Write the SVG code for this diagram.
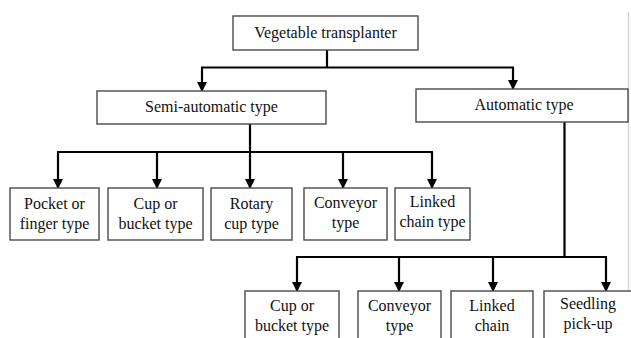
<svg xmlns="http://www.w3.org/2000/svg" width="631" height="338" viewBox="0 0 631 338">
<style>
.box{fill:#fff;stroke:#4a4a4a;stroke-width:1.4}
.t{font-family:"Liberation Serif","Times New Roman",serif;font-size:16px;fill:#111;text-anchor:middle}
.c{fill:none;stroke:#000;stroke-width:2.2}
</style>
<defs>
<marker id="a" markerUnits="userSpaceOnUse" markerWidth="10" markerHeight="10" refX="9" refY="5" orient="auto" viewBox="0 0 10 10">
<path d="M0 0 L10 5 L0 10 Z" fill="#000"/>
</marker>
</defs>
<rect width="631" height="338" fill="#fff"/>
<line x1="628.5" y1="12" x2="628.5" y2="291" stroke="#d6d6d6" stroke-width="1.5"/>
<g id="connectors">
<path class="c" d="M327 50 V67.5 M201 67.5 H514"/>
<path class="c" d="M202 67.5 V91" marker-end="url(#a)"/>
<path class="c" d="M513 67.5 V89" marker-end="url(#a)"/>
<path class="c" d="M250 124 V152 M57 152 H433"/>
<path class="c" d="M58 152 V188" marker-end="url(#a)"/>
<path class="c" d="M157 152 V188" marker-end="url(#a)"/>
<path class="c" d="M250 152 V188" marker-end="url(#a)"/>
<path class="c" d="M343 152 V188" marker-end="url(#a)"/>
<path class="c" d="M432 152 V188" marker-end="url(#a)"/>
<path class="c" d="M564.5 122 V257 M296 257 H607"/>
<path class="c" d="M297 257 V291" marker-end="url(#a)"/>
<path class="c" d="M399 257 V291" marker-end="url(#a)"/>
<path class="c" d="M493 257 V291" marker-end="url(#a)"/>
<path class="c" d="M606 257 V291" marker-end="url(#a)"/>
</g>
<g id="n-root"><rect class="box" x="233" y="16" width="185" height="34"/><text class="t" x="325.5" y="38">Vegetable transplanter</text></g>
<g id="n-semi"><rect class="box" x="97" y="91" width="229" height="33"/><text class="t" x="211.5" y="112">Semi-automatic type</text></g>
<g id="n-auto"><rect class="box" x="416" y="89" width="212" height="33"/><text class="t" x="524" y="110">Automatic type</text></g>
<g id="n-pocket"><rect class="box" x="10" y="188" width="89" height="52"/><text class="t" x="54.5" y="209">Pocket or</text><text class="t" x="54.5" y="229">finger type</text></g>
<g id="n-cup1"><rect class="box" x="108" y="188" width="95" height="52"/><text class="t" x="155.5" y="209">Cup or</text><text class="t" x="155.5" y="229">bucket type</text></g>
<g id="n-rotary"><rect class="box" x="211" y="188" width="81" height="52"/><text class="t" x="251.5" y="209">Rotary</text><text class="t" x="251.5" y="229">cup type</text></g>
<g id="n-conv1"><rect class="box" x="304" y="188" width="83" height="52"/><text class="t" x="345.5" y="208">Conveyor</text><text class="t" x="345.5" y="228">type</text></g>
<g id="n-linked1"><rect class="box" x="395" y="188" width="75" height="52"/><text class="t" x="432.5" y="207">Linked</text><text class="t" x="432.5" y="227">chain type</text></g>
<g id="n-cup2"><rect class="box" x="245" y="291" width="94" height="60"/><text class="t" x="292" y="311">Cup or</text><text class="t" x="292" y="330.5">bucket type</text></g>
<g id="n-conv2"><rect class="box" x="358" y="291" width="83" height="60"/><text class="t" x="399.5" y="311">Conveyor</text><text class="t" x="399.5" y="330.5">type</text></g>
<g id="n-linked2"><rect class="box" x="451" y="291" width="82" height="60"/><text class="t" x="492" y="311">Linked</text><text class="t" x="492" y="330.5">chain</text></g>
<g id="n-seedling"><rect class="box" x="544" y="291" width="100" height="60"/><text class="t" x="588" y="309">Seedling</text><text class="t" x="588" y="329">pick-up</text></g>
</svg>
